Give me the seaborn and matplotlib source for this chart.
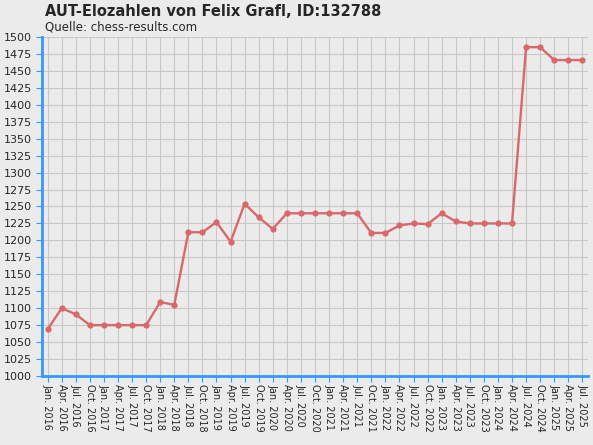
import matplotlib
matplotlib.use("Agg")
import matplotlib.pyplot as plt
import seaborn as sns
import pandas as pd

years = list(range(2016, 2026))
months = ["Jan.", "Apr.", "Jul.", "Oct."]
labels = [f"{m} {y}" for y in years for m in months][:39]
elo = [1069, 1100, 1091, 1075, 1075, 1075, 1075, 1075, 1109, 1105,
       1212, 1212, 1227, 1198, 1254, 1234, 1217, 1240, 1240, 1240,
       1240, 1240, 1240, 1211, 1211, 1222, 1225, 1224, 1240, 1228,
       1225, 1225, 1225, 1225, 1485, 1485, 1466, 1466, 1466]

df = pd.DataFrame({"i": range(len(elo)), "elo": elo})

sns.set_style("whitegrid")
fig = plt.figure(figsize=(5.93, 4.45), dpi=100, facecolor="#ebebeb")
ax = fig.add_axes([42/593, 1-376/445, 546/593, 339/445])
ax.set_facecolor("#ebebeb")
sns.lineplot(data=df, x="i", y="elo", ax=ax, color="#d9686a", lw=1.7,
             marker="o", markersize=4.5, markeredgewidth=0)
ax.set_ylim(1000, 1500)
ax.set_xlim(-0.4, 38.4)
ax.set_yticks(range(1000, 1501, 25))
ax.set_xticks(range(39))
ax.set_xticklabels(labels, rotation=-90, fontsize=7)
ax.tick_params(axis="y", labelsize=8, length=4, color="#3399ff", left=True)
ax.tick_params(axis="x", length=4, color="#3399ff", bottom=True, pad=2)
ax.grid(color="#c8c8c8", lw=0.8)
for s in ["top", "right"]:
    ax.spines[s].set_visible(False)
for s in ["left", "bottom"]:
    ax.spines[s].set_color("#3399ff")
    ax.spines[s].set_linewidth(2)
ax.set_xlabel("")
ax.set_ylabel("")
fig.text(45/593, 1-11/445, "AUT-Elozahlen von Felix Grafl, ID:132788",
         fontsize=10.5, fontweight="bold", va="center")
fig.text(45/593, 1-27/445, "Quelle: chess-results.com", fontsize=8.5, va="center")
fig.savefig("out.png", dpi=100, facecolor=fig.get_facecolor())
